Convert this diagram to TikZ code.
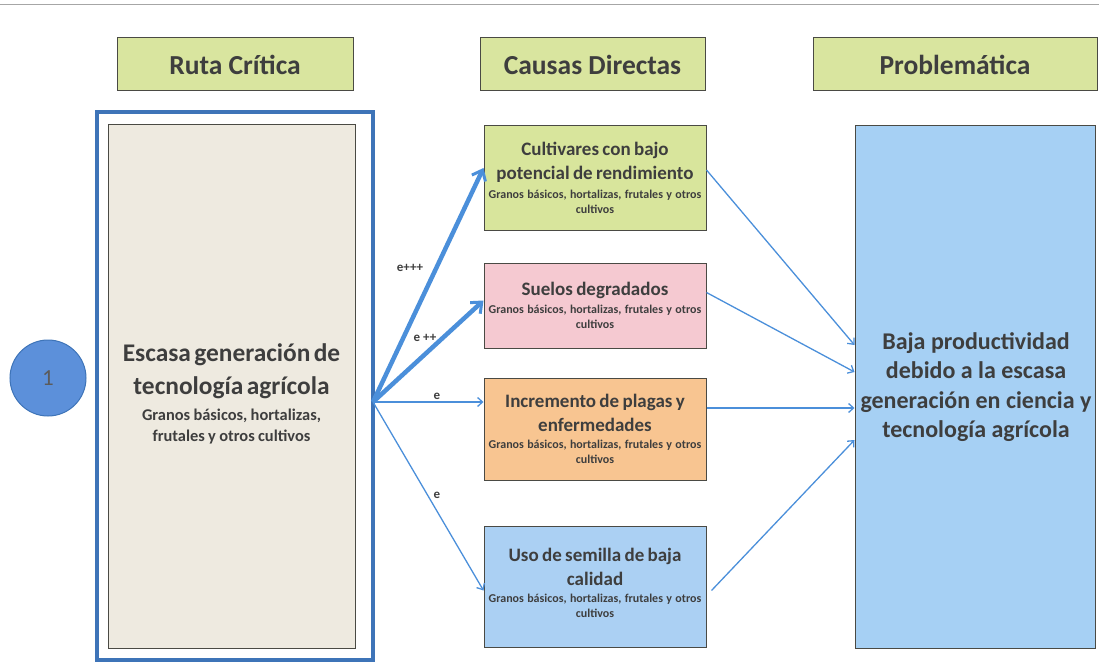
\documentclass[tikz,border=0pt]{standalone}
\usepackage{fontspec}
\setmainfont{Carlito}
\usetikzlibrary{positioning,arrows.meta}

\definecolor{headfill}{HTML}{D9E59F}
\definecolor{boxline}{HTML}{4A4A44}
\definecolor{txtgray}{HTML}{3E3E3E}
\definecolor{framblue}{HTML}{3E74B8}
\definecolor{beige}{HTML}{EEEAE0}
\definecolor{greenfill}{HTML}{D8E59C}
\definecolor{pinkfill}{HTML}{F5C9D1}
\definecolor{orangefill}{HTML}{F8C591}
\definecolor{bluefill}{HTML}{ABD0F3}
\definecolor{probfill}{HTML}{A6D0F4}
\definecolor{arrowblue}{HTML}{4B8FDA}
\definecolor{circfill}{HTML}{5C90DA}

\newcommand{\bigtxt}{\fontsize{25.4}{33}\selectfont}
\newcommand{\midtxt}{\fontsize{16.4}{21}\selectfont}
\newcommand{\cautxt}{\fontsize{19}{24}\selectfont}
\newcommand{\smalltxt}{\fontsize{12}{15}\selectfont}

\begin{document}
\begin{tikzpicture}[x=1pt,y=-1pt,
	% Define styles for the boxes and arrows
	head style/.style={draw=boxline, fill=headfill, line width=1pt, minimum width=#1, minimum height=53, text=txtgray, font=\bfseries\fontsize{27.5}{30}\selectfont},
	cause style/.style={draw=boxline, fill=#1, line width=1pt, minimum width=222, text width=218, inner sep=2pt, align=center, text=txtgray, font=\bfseries},
	thick arrow/.style={draw=arrowblue, line width=4.5pt, -{Straight Barb[length=9pt, width=15pt, line width=3pt]}},
	thin arrow/.style={draw=arrowblue, line width=1.3pt, -{Straight Barb[length=5pt, width=9pt]}},
	tag style/.style={text=txtgray, font=\bfseries\fontsize{13}{14}\selectfont}
	]
	
	\useasboundingbox (0,0) rectangle (1099,663);
	\draw[gray!70, line width=1pt] (0,5) -- (1099,5);
	
	% --- Column headers ---
	\node[head style=236] (hruta) at (235,64.5) {Ruta Crítica};
	\node[head style=225] (hcausas) at (592.5,64.5) {Causas Directas};
	\node[head style=284] (hprob) at (955,64.5) {Problemática};
	
	% --- Critical path ---
	\node[draw=framblue, line width=4pt, minimum width=276, minimum height=548] (frame) at (235,386) {};
	\node[draw=boxline, fill=beige, line width=1pt, minimum width=247, minimum height=523] (ruta) at (231.5,386.5) {};
	\node[text width=244, inner sep=0pt, align=center, text=txtgray, font=\bfseries] (rutatext) at (231.5,394)
		{{\bigtxt Escasa generación de\\ tecnología agrícola\par}\vspace{5pt}{\midtxt Granos básicos, hortalizas,\\ frutales y otros cultivos\par}};
	\node[circle, draw=framblue, fill=circfill, line width=1pt, minimum size=76, text=txtgray!85, font=\fontsize{23}{24}\selectfont] (uno) at (48,378) {1};
	
	% --- Direct causes ---
	\node[cause style=greenfill, minimum height=104] (c1) at (595,178)
		{{\cautxt Cultivares con bajo\\ potencial de rendimiento\par}\vspace{4pt}{\smalltxt Granos básicos, hortalizas, frutales y otros\\ cultivos\par}};
	\node[cause style=pinkfill, minimum height=85] (c2) at (595,305.5)
		{{\cautxt Suelos degradados\par}\vspace{3pt}{\smalltxt Granos básicos, hortalizas, frutales y otros\\ cultivos\par}};
	\node[cause style=orangefill, minimum height=102] (c3) at (595,429)
		{{\cautxt Incremento de plagas y\\ enfermedades\par}\vspace{2pt}{\smalltxt Granos básicos, hortalizas, frutales y otros\\ cultivos\par}};
	\node[cause style=bluefill, minimum height=121] (c4) at (595,586.5)
		{{\cautxt Uso de semilla de baja\\ calidad\par}\vspace{2pt}{\smalltxt Granos básicos, hortalizas, frutales y otros\\ cultivos\par}\vspace{8pt}};
	
	% --- Problem ---
	\node[draw=boxline, fill=probfill, line width=1pt, minimum width=240, minimum height=522] (prob) at (975,387) {};
	\node[inner sep=0pt, align=center, text=txtgray, font=\bfseries\fontsize{24}{29.5}\selectfont] (probtext) at (976,387)
		{Baja productividad\\ debido a la escasa\\ generación en ciencia y\\ tecnología agrícola};
	
	% --- Draw the edges ---
	\coordinate (hub) at (373,402);
	\draw[thick arrow] (hub) -- ([yshift=10pt]c1.west);
	\draw[thick arrow] (hub) -- ([yshift=5pt]c2.west);
	\draw[thin arrow] (hub) -- (c3.west |- hub);
	\draw[thin arrow] (hub) -- ([yshift=-4pt]c4.west);
	
	\node[tag style] (t1) at (410,268) {e+++};
	\node[tag style] (t2) at (425,338) {e ++};
	\node[tag style] (t3) at (437,396) {e};
	\node[tag style] (t4) at (437,495) {e};
	
	\draw[thin arrow] ([yshift=8pt]c1.east) -- ([yshift=42pt]prob.west);
	\draw[thin arrow] ([yshift=13pt]c2.east) -- ([yshift=15pt]prob.west);
	\draw[thin arrow] ([yshift=21pt]c3.east) -- ([yshift=-21pt]prob.west);
	\draw[thin arrow] ([xshift=5pt,yshift=-4pt]c4.east) -- ([yshift=-53pt]prob.west);
\end{tikzpicture}
\end{document}
